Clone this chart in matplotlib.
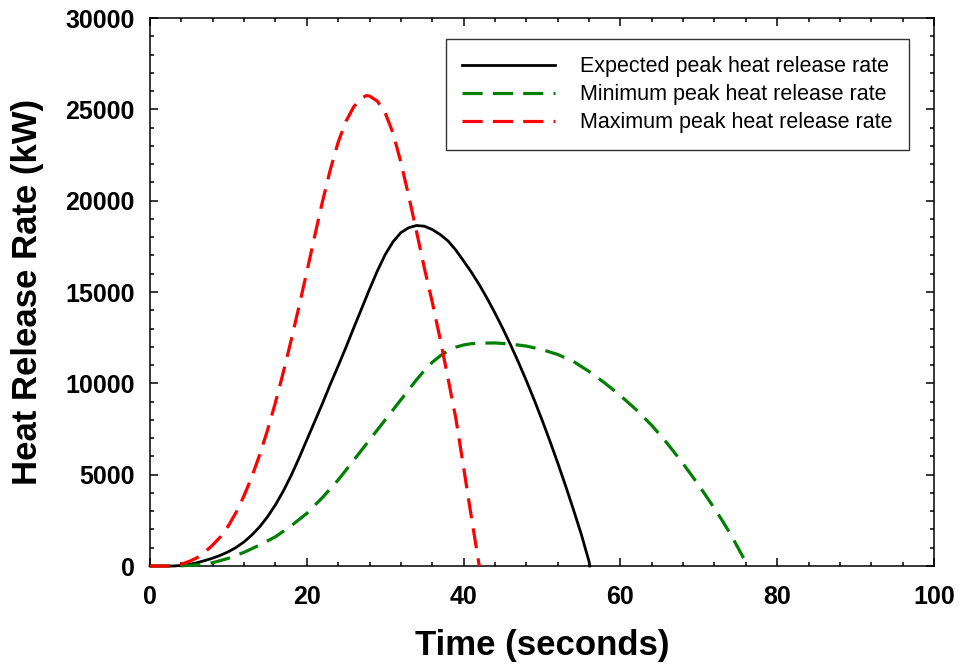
import matplotlib
matplotlib.use("Agg")
import matplotlib.pyplot as plt
from matplotlib.ticker import MultipleLocator

plt.rcParams['font.family'] = ['Liberation Sans', 'DejaVu Sans']

# Expected peak heat release rate (kW) vs time (s)
t_expected = [0, 3, 4, 5, 6, 7, 8, 9, 10, 11, 12, 13, 14, 15, 16, 17, 18, 19, 20,
              21, 22, 23, 24, 25, 26, 27, 28, 29, 30, 31, 32, 33, 34, 35, 36, 37,
              38, 39, 40, 41, 42, 43, 44, 45, 46, 47, 48, 49, 50, 51, 52, 53, 54,
              55, 56, 56.1]
q_expected = [0, 0, 30, 90, 180, 300, 430, 590, 780, 1020, 1320, 1700, 2150, 2700,
              3350, 4100, 4950, 5900, 6900, 7900, 8900, 9950, 10950, 11980, 13050,
              14100, 15150, 16150, 17050, 17750, 18250, 18520, 18640, 18600, 18420,
              18150, 17800, 17300, 16700, 16080, 15400, 14650, 13850, 13000, 12100,
              11150, 10150, 9100, 8000, 6850, 5650, 4400, 3100, 1750, 250, 0]

# Minimum peak heat release rate
t_minimum = [0, 3.5, 6, 8, 10, 12, 14, 16, 18, 20, 22, 24, 26, 28, 30, 32, 33, 34,
             35, 36, 37, 38, 39, 40, 41, 42, 44, 46, 48, 50, 52, 54, 56, 58, 60,
             62, 64, 66, 68, 70, 72, 73, 74, 75, 76, 76.3]
q_minimum = [0, 0, 60, 180, 420, 750, 1150, 1600, 2200, 2880, 3750, 4710, 5800,
             6900, 8000, 9100, 9650, 10200, 10700, 11150, 11500, 11780, 11980,
             12100, 12170, 12200, 12210, 12150, 12040, 11850, 11580, 11200, 10650,
             10020, 9330, 8560, 7700, 6700, 5600, 4420, 3150, 2480, 1780, 1000,
             200, 0]

# Maximum peak heat release rate
t_maximum = [0, 2.5, 4, 5, 6, 7, 8, 9, 10, 11, 12, 13, 14, 15, 16, 17, 18, 19, 20,
             21, 22, 23, 24, 25, 26, 27, 27.6, 28, 29, 30, 31, 32, 33, 34, 35, 36,
             37, 38, 39, 40, 41, 42]
q_maximum = [0, 0, 100, 250, 450, 760, 1150, 1600, 2200, 2950, 3850, 4900, 6100,
             7450, 8950, 10600, 12350, 14200, 16100, 18050, 19950, 21700, 23200,
             24350, 25150, 25620, 25750, 25730, 25450, 24800, 23700, 22100, 20250,
             18300, 16300, 14450, 12450, 10300, 8100, 5400, 2650, 0]

labels = ["Expected peak heat release rate",
          "Minimum peak heat release rate",
          "Maximum peak heat release rate"]

fig = plt.figure(figsize=(9.61, 6.70), dpi=100)
ax = fig.add_axes([150 / 961, 1 - 566 / 670, 784 / 961, 548 / 670])

ax.plot(t_expected, q_expected, color="black", lw=2.0, label=labels[0],
        zorder=2, clip_on=False, solid_joinstyle="round")
ax.plot(t_minimum, q_minimum, color="#008000", lw=2.3, dashes=(6.3, 3.2),
        label=labels[1], zorder=3, clip_on=False)
ax.plot(t_maximum, q_maximum, color="#ff0000", lw=2.3, dashes=(6.3, 3.2),
        label=labels[2], zorder=4, clip_on=False)

ax.set_xlim(0, 100)
ax.set_ylim(0, 30000)
ax.xaxis.set_major_locator(MultipleLocator(20))
ax.xaxis.set_minor_locator(MultipleLocator(4))
ax.yaxis.set_major_locator(MultipleLocator(5000))
ax.yaxis.set_minor_locator(MultipleLocator(1000))

ax.tick_params(which="both", direction="in", top=True, right=True, width=1.1,
               colors="black")
ax.tick_params(which="major", length=6, labelsize=18, pad=11)
ax.tick_params(axis="x", which="major", pad=14)
ax.tick_params(which="minor", length=3.2)
for lab in ax.get_xticklabels() + ax.get_yticklabels():
    lab.set_fontweight("bold")
for sp in ax.spines.values():
    sp.set_linewidth(1.1)

ax.set_xlabel("Time (seconds)", fontsize=25, fontweight="bold", labelpad=14)
ax.set_ylabel("Heat Release Rate (kW)", fontsize=25, fontweight="bold", labelpad=15)

leg = ax.legend(loc="upper right", bbox_to_anchor=(0.968, 0.961), fontsize=15.5,
                frameon=True, fancybox=False, edgecolor="black",
                handlelength=4.3, handletextpad=1.15, labelspacing=0.33,
                borderpad=0.78, borderaxespad=0)
leg.get_frame().set_linewidth(1.0)

fig.savefig("out.png", dpi=100)
